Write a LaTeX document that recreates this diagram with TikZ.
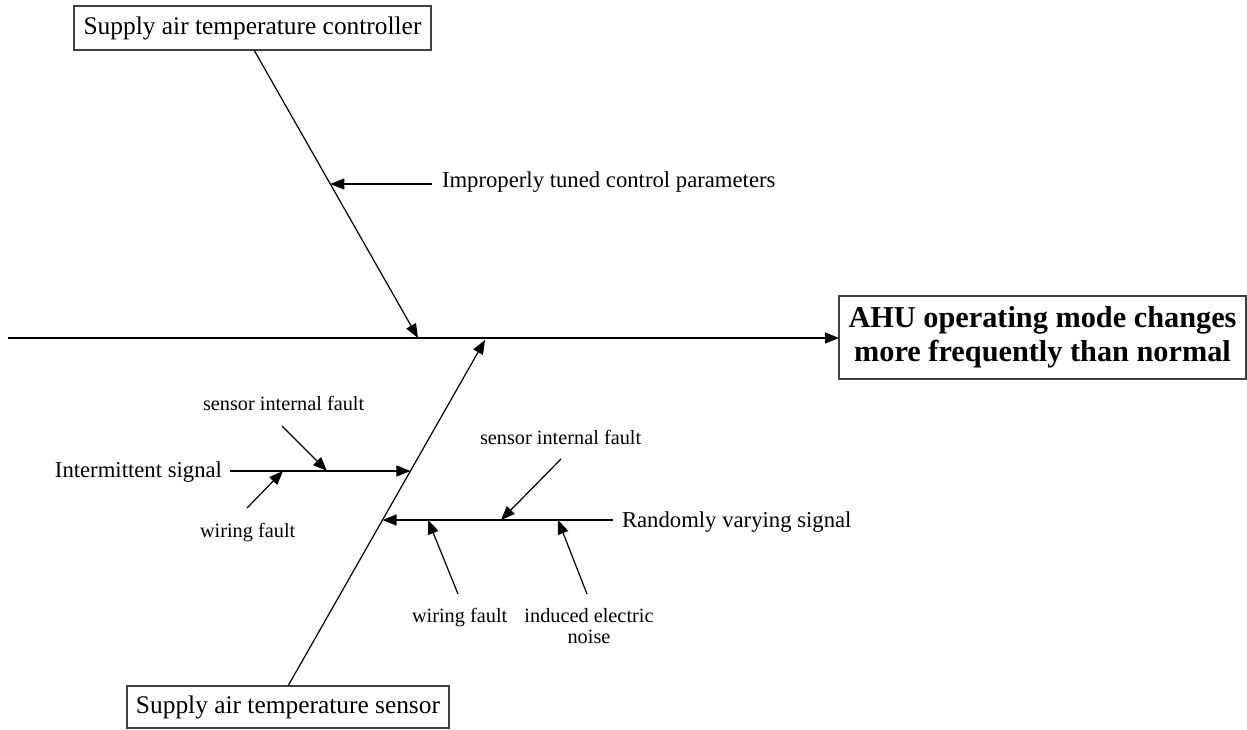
\documentclass[tikz,border=0pt]{standalone}
\usepackage{fontspec}
\setmainfont{Liberation Serif}
\usetikzlibrary{arrows.meta}
\begin{document}
\begin{tikzpicture}[x=1pt,y=-1pt,
  every node/.style={inner sep=0pt,outer sep=0pt},
  bone/.style={line width=1.2pt,black},
  causearrow/.style={bone,-{Triangle[length=14pt,width=11pt]}},
  frame/.style={draw=black!75,line width=1.3pt,fill=white},
  boxtext/.style={font=\fontsize{25.4}{30}\selectfont},
  midtext/.style={font=\fontsize{22.7}{27}\selectfont},
  smalltext/.style={font=\fontsize{20.3}{21}\selectfont},
  effecttext/.style={font=\bfseries\fontsize{30.3}{34}\selectfont,align=center}
]
\useasboundingbox (0,0) rectangle (1247,730);

% category boxes and effect box
\node[frame,boxtext,minimum width=357pt,minimum height=44pt] (ctl) at (252.5,28) {Supply air temperature controller};
\node[frame,boxtext,minimum width=322pt,minimum height=42pt] (sen) at (288,707) {Supply air temperature sensor};
\node[frame,effecttext,minimum width=407pt,minimum height=83pt] (ahu) at (1042.5,337.5) {AHU operating mode changes\\more frequently than normal};

% spine
\coordinate (tail) at (8,338);
\draw[causearrow] (tail) -- (ahu.west |- tail);

% controller bone
\coordinate (c0) at (254,50);
\coordinate (c1) at (418,338);
\draw[causearrow] (c0) -- (c1);
\node[midtext,anchor=base west] (tune) at (442,188) {Improperly tuned control parameters};
\coordinate (tuneS) at (432,184);
\coordinate (tuneE) at (330.3,184);
\draw[causearrow] (tuneS) -- (tuneE);

% sensor bone
\coordinate (s0) at (288,686);
\coordinate (s1) at (485,340);
\draw[causearrow] (s0) -- (s1);

% intermittent signal branch
\node[midtext,anchor=base east] (inter) at (222,477) {Intermittent signal};
\coordinate (iS) at (230,471);
\coordinate (iE) at (410.4,471);
\draw[causearrow] (iS) -- (iE);
\node[smalltext,anchor=base west] (sifL) at (203,410) {sensor internal fault};
\coordinate (sifLS) at (282,426);
\coordinate (sifLE) at (327,471);
\draw[causearrow] (sifLS) -- (sifLE);
\node[smalltext,anchor=base west] (wfL) at (200,537) {wiring fault};
\coordinate (wfLS) at (247,508);
\coordinate (wfLE) at (283,471);
\draw[causearrow] (wfLS) -- (wfLE);

% randomly varying signal branch
\node[midtext,anchor=base west] (rand) at (622,527) {Randomly varying signal};
\coordinate (rS) at (613,520);
\coordinate (rE) at (382.5,520);
\draw[causearrow] (rS) -- (rE);
\node[smalltext,anchor=base west] (sifR) at (480,444) {sensor internal fault};
\coordinate (sifRS) at (561,459);
\coordinate (sifRE) at (501,520);
\draw[causearrow] (sifRS) -- (sifRE);
\node[smalltext,anchor=base west] (wfB) at (412,622) {wiring fault};
\coordinate (wfBS) at (458,594);
\coordinate (wfBE) at (428,520);
\draw[causearrow] (wfBS) -- (wfBE);
\node[smalltext,align=center,anchor=north] (noise) at (589,608) {induced electric\\noise};
\coordinate (nS) at (587,594);
\coordinate (nE) at (558,520);
\draw[causearrow] (nS) -- (nE);
\end{tikzpicture}
\end{document}
